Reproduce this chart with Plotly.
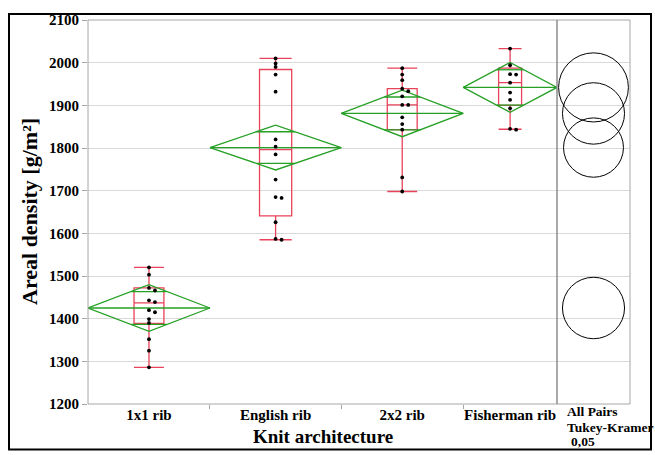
import plotly.graph_objects as go

# ---- data -------------------------------------------------------------
categories = ["1x1 rib", "English rib", "2x2 rib", "Fisherman rib"]

areal_1x1 = [1520, 1503, 1472, 1466, 1443, 1439, 1420, 1415, 1399, 1390, 1352, 1325, 1286]
areal_english = [2010, 1998, 1990, 1972, 1932, 1820, 1803, 1785, 1726, 1685, 1683, 1626, 1587, 1585]
areal_2x2 = [1987, 1972, 1959, 1939, 1933, 1921, 1901, 1901, 1872, 1856, 1843, 1731, 1698]
areal_fisherman = [2033, 1994, 1973, 1972, 1953, 1930, 1913, 1893, 1845, 1843]
samples = [areal_1x1, areal_english, areal_2x2, areal_fisherman]

# quantile box summary per group
box_q1 = [1389, 1641, 1843, 1900]
box_median = [1437, 1796, 1901, 1953]
box_q3 = [1472, 1984, 1939, 1987]
box_low = [1286, 1585, 1698, 1844]
box_high = [1520, 2010, 1987, 2033]

# means diamonds (group mean and 95% CI half-width)
group_mean = [1425, 1801, 1881, 1942]
ci_half = [54.5, 52.5, 54.5, 58.5]

# Tukey-Kramer comparison circle radii (alpha 0.05)
circle_radius = [72, 69.5, 72, 81]

# ---- geometry ---------------------------------------------------------
W, H = 655, 455
L, R, T, B = 88, 630, 16, 404          # plot area in pixels
SEP = 557                               # split between main panel and circle panel
Y_MIN, Y_MAX = 1200, 2100
split = (SEP - L) / (R - L)


def px_x(p):
    return (p - L) / (R - L)


def px_y(p):
    return (B - p) / (B - T)


RED = "#e8435a"
GREEN = "#25a025"
GRID = "#d9d9d9"
FRAME = "#a6a6a6"
FONT = "Liberation Serif"

counts = [len(s) for s in samples]
lefts, centers = [], []
acc = 0
for n in counts:
    lefts.append(acc)
    centers.append(acc + n / 2)
    acc += n
total = acc
bounds = [lefts[i] for i in range(1, len(lefts))]

fig = go.Figure()

# means diamonds, mean lines and overlap marks
dx, dy = [], []
for i, n in enumerate(counts):
    l, c, r = lefts[i], centers[i], lefts[i] + n
    m, h = group_mean[i], ci_half[i]
    dx += [l, c, r, c, l, None, l, r, None]
    dy += [m, m + h, m, m - h, m, None, m, m, None]
    k = h / 2 ** 0.5
    hw = (n / 2) * (1 - 1 / 2 ** 0.5)
    for s in (1, -1):
        dx += [c - hw, c + hw, None]
        dy += [m + s * k, m + s * k, None]
fig.add_trace(go.Scatter(x=dx, y=dy, mode="lines", line=dict(color=GREEN, width=1.3),
                         hoverinfo="skip", showlegend=False))

# quantile boxes
for i, n in enumerate(counts):
    fig.add_trace(go.Box(
        x=[centers[i]], q1=[box_q1[i]], median=[box_median[i]], q3=[box_q3[i]],
        lowerfence=[box_low[i]], upperfence=[box_high[i]],
        width=n * 0.245, whiskerwidth=1, boxpoints=False,
        line=dict(color=RED, width=1.3), fillcolor="rgba(0,0,0,0)",
        showlegend=False, name=categories[i]))

# individual observations, nudged sideways where they would overlap
px_unit = (SEP - L) / total
pt_x, pt_y = [], []
for i, vals in enumerate(samples):
    placed = []
    for v in vals:
        off = 0.0
        near = [o for (pv, o) in placed if abs(pv - v) < 7]
        if near:
            step = 6 / px_unit
            off = step if len([o for o in near if o > 0]) <= len([o for o in near if o < 0]) else -step
        placed.append((v, off))
        pt_x.append(centers[i] + off)
        pt_y.append(v)
fig.add_trace(go.Scatter(x=pt_x, y=pt_y, mode="markers",
                         marker=dict(color="black", size=3.8),
                         showlegend=False))

# empty trace so the circle panel subplot is laid out
fig.add_trace(go.Scatter(x=[0.5], y=[None], xaxis="x2", yaxis="y", mode="markers",
                         showlegend=False, hoverinfo="skip"))

shapes = []
px_per_val = (B - T) / (Y_MAX - Y_MIN)
for i in range(len(categories)):
    rpx = circle_radius[i] * px_per_val
    shapes.append(dict(type="circle", xref="x2", yref="y", xsizemode="pixel",
                       xanchor=0.5, x0=-rpx, x1=rpx,
                       y0=group_mean[i] - circle_radius[i], y1=group_mean[i] + circle_radius[i],
                       line=dict(color="black", width=1)))

# plot frame, panel separator and outer border
shapes.append(dict(type="rect", xref="paper", yref="paper", x0=0, x1=1, y0=0, y1=1,
                   line=dict(color=FRAME, width=1)))
shapes.append(dict(type="line", xref="paper", yref="paper", x0=split, x1=split, y0=0, y1=1,
                   line=dict(color="#8c8c8c", width=1.5)))
shapes.append(dict(type="rect", xref="paper", yref="paper",
                   x0=px_x(9), x1=px_x(651), y0=px_y(450), y1=px_y(10),
                   line=dict(color="black", width=2)))

bold = dict(family=FONT, color="black", weight="bold")

annotations = [
    dict(text="Areal density [g/m²]", xref="paper", yref="paper",
         x=px_x(29), y=0.5, textangle=-90, showarrow=False,
         font=dict(**bold, size=22), xanchor="center", yanchor="middle"),
    dict(text="Knit architecture", xref="paper", yref="paper",
         x=split / 2, y=px_y(437), showarrow=False,
         font=dict(**bold, size=19), xanchor="center", yanchor="middle"),
    dict(text="All Pairs", xref="paper", yref="paper", x=px_x(565), y=px_y(412),
         showarrow=False, font=dict(**bold, size=13.5), xanchor="left", yanchor="middle"),
    dict(text="Tukey-Kramer", xref="paper", yref="paper", x=px_x(565), y=px_y(428),
         showarrow=False, font=dict(**bold, size=13.5), xanchor="left", yanchor="middle"),
    dict(text="0,05", xref="paper", yref="paper", x=px_x(569), y=px_y(442),
         showarrow=False, font=dict(**bold, size=13.5), xanchor="left", yanchor="middle"),
]

fig.update_layout(
    width=W, height=H,
    margin=dict(l=L, r=W - R, t=T, b=H - B, pad=0),
    paper_bgcolor="white", plot_bgcolor="white",
    xaxis=dict(domain=[0, split], range=[0, total], showgrid=False, zeroline=False,
               tickmode="array", tickvals=centers, ticktext=categories, ticks="",
               tickfont=dict(**bold, size=15), showline=False,
               minor=dict(tickmode="array", tickvals=bounds, ticks="outside",
                          ticklen=4, tickcolor=FRAME, showgrid=False)),
    xaxis2=dict(domain=[split, 1], range=[0, 1], anchor="y", showgrid=False,
                zeroline=False, showticklabels=False, ticks=""),
    yaxis=dict(range=[Y_MIN, Y_MAX], dtick=100, tick0=1200, showgrid=True,
               gridcolor=GRID, zeroline=False, ticks="outside", ticklen=5,
               tickcolor=FRAME, tickfont=dict(**bold, size=15), showline=False),
    shapes=shapes,
    annotations=annotations,
    showlegend=False,
)

fig.write_html("out.html")
